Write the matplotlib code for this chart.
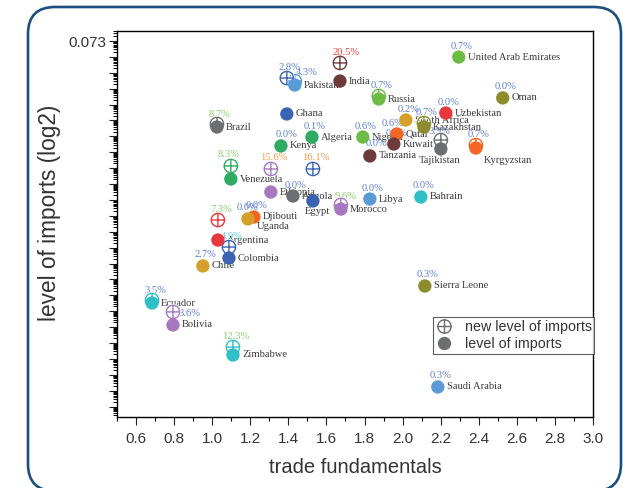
import numpy as np
import matplotlib
matplotlib.use("Agg")
import matplotlib.pyplot as plt
from matplotlib.path import Path
from matplotlib.patches import FancyBboxPatch
from matplotlib.lines import Line2D
from matplotlib.ticker import FixedLocator, FuncFormatter
import matplotlib.patheffects as pe

plt.rcParams['font.family'] = ['Liberation Sans', 'DejaVu Sans']

# dados (y em unidades de tick maior, 0 = 0.073)
countries = ["United Arab Emirates", "Oman", "India", "Pakistan", "Ghana", "Russia",
             "Uzbekistan", "South Africa", "Kazakhstan", "Qatar", "Kuwait", "Tanzania",
             "Tajikistan", "Kyrgyzstan", "Nigeria", "Algeria", "Kenya", "Brazil",
             "Venezuela", "Ethiopia", "Angola", "Egypt", "Morocco", "Libya", "Bahrain",
             "Djibouti", "Uganda", "Argentina", "Colombia", "Chile", "Ecuador", "Bolivia",
             "Zimbabwe", "Sierra Leone", "Saudi Arabia"]
trade = [2.295, 2.526, 1.671, 1.434, 1.392, 1.875, 2.227, 2.017, 2.112, 1.970, 1.954, 1.828,
         2.201, 2.385, 1.791, 1.524, 1.361, 1.025, 1.098, 1.308, 1.424, 1.529, 1.676, 1.828,
         2.096, 1.219, 1.188, 1.030, 1.088, 0.951, 0.684, 0.794, 1.109, 2.117, 2.185]
level = [-1.01, -3.58, -2.52, -2.77, -4.59, -3.65, -4.53, -4.97, -5.41, -5.85, -6.48, -7.23,
         -6.79, -6.73, -6.04, -6.04, -6.60, -5.41, -8.68, -9.50, -9.75, -10.06, -10.57, -9.94,
         -9.81, -11.07, -11.19, -12.52, -13.65, -14.15, -16.48, -17.86, -19.75, -15.41, -21.76]
new_level = [None, None, -1.38, -2.52, -2.33, -3.46, None, None, -5.16, None, None, None,
             -6.23, -6.55, None, None, None, -5.22, -7.86, -8.05, None, -8.05, -10.31, None,
             None, None, None, -11.26, -12.96, None, -16.29, -17.04, -19.25, None, None]
pct_change = [0.7, 0.0, 20.5, 4.3, 2.8, 0.7, 0.0, 0.2, 0.7, 0.6, 0.0, 0.0,
              3.9, 0.7, 0.6, 0.1, 0.0, 8.7, 8.3, 15.6, 0.0, 16.1, 9.6, 0.0, 0.0,
              0.0, 0.0, 7.3, 4.9, 2.7, 3.5, 3.6, 12.3, 0.3, 0.3]

# cores dos pontos
GREEN, GREEN2, OLIVE, BROWN = '#6dbd45', '#2fab63', '#8d8c2c', '#6e3b3b'
LBLUE, BLUE, RED, GOLD = '#5b9bd5', '#3a64b3', '#e8383d', '#d4a02a'
ORANGE, GRAY, PURPLE, TEAL = '#f26522', '#6d6e71', '#a678c0', '#2fbfc6'
point_colors = [GREEN, OLIVE, BROWN, LBLUE, BLUE, GREEN, RED, GOLD, OLIVE, ORANGE, BROWN, BROWN,
                GRAY, ORANGE, GREEN, GREEN2, GREEN2, GRAY, GREEN2, PURPLE, GRAY, BLUE, PURPLE,
                LBLUE, TEAL, ORANGE, GOLD, RED, BLUE, GOLD, TEAL, PURPLE, TEAL, OLIVE, LBLUE]

# deslocamentos dos rotulos (pixels, y para cima)
name_offsets = {"Tajikistan": (-1, -12, 'center'), "Kyrgyzstan": (8, -13, 'left'),
                "Egypt": (-8, -11, 'left'), "Uganda": (9, -8, 'left')}
pct_offsets = {"Pakistan": (12, 9), "Bolivia": (16, -2), "India": (6, 10), "Tanzania": (7, 12),
               "Kenya": (6, 11), "Qatar": (-4, 11), "Morocco": (5, 8), "Venezuela": (-2, 11),
               "Uganda": (0, 11), "Tajikistan": (-1, 9), "Brazil": (3, 9), "Ecuador": (3, 9)}


def pct_color(v):
    if v >= 18:
        return '#ee3b3b'
    if v >= 14:
        return '#f59a4b'
    if v >= 6:
        return '#86cc66'
    if v >= 4.5:
        return '#5ccbe6'
    return '#5b7fd1'


# marcador circulo com cruz
circle = Path.unit_circle()
cross = Path([(-1, 0), (1, 0), (0, -1), (0, 1)],
             [Path.MOVETO, Path.LINETO, Path.MOVETO, Path.LINETO])
crosshair = Path.make_compound_path(circle, cross)

fig = plt.figure(figsize=(6.23, 4.88), dpi=100)

# moldura arredondada
frame = FancyBboxPatch((0.28 + 0.27, -0.03 + 0.27), 5.93 - 0.54, 4.84 - 0.54,
                       boxstyle="round,pad=0.27", transform=fig.dpi_scale_trans,
                       facecolor='none', edgecolor='#1c4f80', linewidth=1.9)
fig.add_artist(frame)

ax = fig.add_axes([0.1878, 0.1455, 0.7640, 0.7910])

msize = 92
ax.scatter(trade, level, s=msize, c=point_colors, linewidths=0, zorder=3)

for i, name in enumerate(countries):
    if new_level[i] is not None:
        ax.scatter([trade[i]], [new_level[i]], s=msize, marker=crosshair, facecolors='none',
                   edgecolors=point_colors[i], linewidths=1.0, zorder=2.5,
                   path_effects=[pe.withStroke(linewidth=2.2, foreground='white')])

    dx, dy, ha = name_offsets.get(name, (9, 0, 'left'))
    ax.annotate(name, (trade[i], level[i]), xytext=(dx, dy), textcoords='offset pixels',
                ha=ha, va='center', fontsize=7.6, family='Liberation Serif',
                color='#3a3a3a', zorder=2)

    top = new_level[i] if new_level[i] is not None else level[i]
    px, py = pct_offsets.get(name, (3, 11))
    ax.annotate(f"{pct_change[i]:.1f}%", (trade[i], top), xytext=(px, py),
                textcoords='offset pixels', ha='center', va='center', fontsize=7.6,
                family='Liberation Serif', color=pct_color(pct_change[i]), zorder=2)

ax.set_xlim(0.5, 3.0)
ax.set_ylim(-23.65, 0.63)

ax.set_xticks(np.arange(0.6, 3.01, 0.2))
ax.set_xticklabels([f"{v:.1f}" for v in np.arange(0.6, 3.01, 0.2)])
ax.xaxis.set_minor_locator(FixedLocator(np.arange(0.5, 3.01, 0.2)))

majors = np.arange(-23, 1)
ax.yaxis.set_major_locator(FixedLocator(majors))
ax.yaxis.set_major_formatter(FuncFormatter(lambda v, p: "0.073" if abs(v) < 1e-6 else ""))
minors = [m + np.log10(k) for m in range(-24, 1) for k in range(2, 10)]
ax.yaxis.set_minor_locator(FixedLocator(minors))

ax.tick_params(axis='both', which='major', direction='out', labelsize=11, width=0.8,
               color='#222222', labelcolor='#333333')
ax.tick_params(axis='x', which='major', length=6, pad=4.5)
ax.tick_params(axis='x', which='minor', length=3, width=0.8)
ax.tick_params(axis='y', which='major', length=5.5, pad=2)
ax.tick_params(axis='y', which='minor', length=3, width=0.7)
for sp in ax.spines.values():
    sp.set_linewidth(1.0)

ax.set_xlabel("trade fundamentals", fontsize=14.5, color='#333333', va='center')
ax.xaxis.set_label_coords(0.5, -0.132)
ax.set_ylabel("level of imports (log2)", fontsize=16.3, color='#333333', va='center')
ax.yaxis.set_label_coords(-0.141, 0.53)

handles = [Line2D([], [], marker=crosshair, linestyle='none', markersize=9.6,
                  markerfacecolor='none', markeredgecolor=GRAY, markeredgewidth=1.0),
           Line2D([], [], marker='o', linestyle='none', markersize=9.6,
                  markerfacecolor=GRAY, markeredgewidth=0)]
leg = ax.legend(handles, ["new level of imports", "level of imports"], loc='upper left',
                bbox_to_anchor=(0.664, 0.258), fontsize=10.3, frameon=True, fancybox=False,
                edgecolor='#333333', borderpad=0.2, handlelength=1.2, handletextpad=0.8,
                labelspacing=0.2, borderaxespad=0)
leg.get_frame().set_linewidth(0.8)
for t in leg.get_texts():
    t.set_color('#333333')

fig.savefig("out.png", dpi=100)
